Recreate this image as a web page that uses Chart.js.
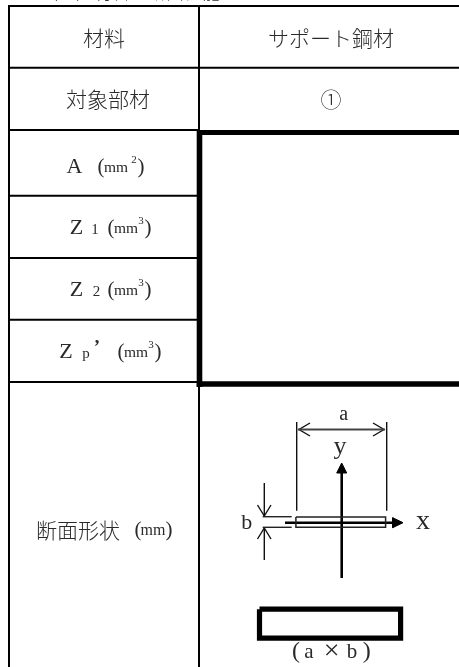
<!DOCTYPE html>
<html lang="ja">
<head>
<meta charset="utf-8">
<title>断面形状</title>
<script src="https://cdn.jsdelivr.net/npm/chart.js@4/dist/chart.umd.min.js"></script>
<style>
  html, body { margin: 0; padding: 0; background: #fff; overflow: hidden; }
  canvas { display: block; }
</style>
</head>
<body>
<canvas id="myTable" width="459" height="667"></canvas>
<script>
// table content
const caption = "（１）材料の断面性能";
const leftLabels = ["材料", "対象部材", "断面形状"];
const rightLabels = ["サポート鋼材", "①"];
const propSymbols = ["A", "Z", "Z", "Z"];
const propSubs = ["", "1", "2", "p"];
const propUnitPowers = ["2", "3", "3", "3"];
const unitText = "mm";
const dimLabels = ["a", "b", "y", "x"];
const sizeLabel = ["(", "a", "×", "b", ")"];

// where the things go, in page pixels (the scales below run 0-459 and 667-0)
const layout = {
  headerY: [38, 99, 530],
  headerX: [104, 108, 78],
  rightX: 331,
  rightY: [38, 99],
  propY: [167, 228, 290, 352],
  propZ: [74.5, 76.5, 76.5, 66],
  propSub: [0, 95, 96.5, 86],
  propParen: [98, 108, 108, 118],
  dimX: [343.7, 246.7, 340, 423],
  dimY: [415, 523, 447, 522],
  dimSize: [20, 22, 26, 28],
  sizeX: [296, 309, 331.7, 352, 366.7],
  sizeSize: [24, 21, 28, 21, 24],
  sizeY: 652
};

function seg(pts, width, color) {
  return {
    data: pts.map(p => ({ x: p[0], y: p[1] })),
    borderColor: color || "#000",
    borderWidth: width,
    borderCapStyle: "butt",
    borderJoinStyle: "miter",
    pointRadius: 0,
    showLine: true,
    fill: false
  };
}

function tri(pts) {
  let d = seg(pts.concat([pts[0]]), 1, "#000");
  d.fill = "shape";
  d.backgroundColor = "#000";
  return d;
}

let lines = [
  // outer frame and dividers
  seg([[8, 6], [459, 6]], 2),
  seg([[9, 6], [9, 667]], 2),
  seg([[199, 6], [199, 130]], 2),
  seg([[199, 382], [199, 667]], 2),
  seg([[9, 67.7], [459, 67.7]], 2),
  seg([[9, 130], [199, 130]], 2),
  seg([[9, 195.7], [197, 195.7]], 2),
  seg([[9, 258], [197, 258]], 2),
  seg([[9, 319.7], [197, 319.7]], 2),
  seg([[9, 382], [197, 382]], 2),
  // heavy box
  seg([[199.5, 130], [199.5, 387]], 5.6),
  seg([[197, 132.5], [459, 132.5]], 5),
  seg([[196.7, 384], [459, 384]], 5.6),
  // dimension a
  seg([[296.7, 422], [296.7, 510.7]], 1.4, "#111"),
  seg([[386.7, 422], [386.7, 510.7]], 1.4, "#111"),
  seg([[298, 429.5], [385, 429.5]], 1.8, "#444"),
  seg([[310, 423], [299, 429.5], [310, 436]], 1.4, "#111"),
  seg([[373, 423], [384, 429.5], [373, 436]], 1.4, "#111"),
  // dimension b
  seg([[262.7, 516.7], [291.7, 516.7]], 1.4, "#222"),
  seg([[262.7, 527.3], [291.7, 527.3]], 1.4, "#222"),
  seg([[264.3, 483], [264.3, 516]], 1.4, "#111"),
  seg([[264.3, 528], [264.3, 560]], 1.4, "#111"),
  seg([[257.5, 505], [264.3, 516], [271, 505]], 1.4, "#111"),
  seg([[257.5, 539], [264.3, 528], [271, 539]], 1.4, "#111"),
  // plate section
  seg([[295.9, 516.9], [385.6, 516.9], [385.6, 527.2], [295.9, 527.2], [295.9, 516.9]], 1.5, "#222"),
  // axes
  seg([[341.7, 578], [341.7, 472]], 2.6),
  tri([[341.7, 463], [336.7, 473], [346.7, 473]]),
  seg([[285, 522.7], [394, 522.7]], 2.4),
  tri([[403, 522.7], [392.7, 517.7], [392.7, 527.7]]),
  // thick rectangle
  seg([[259.5, 609.2], [400.6, 609.2], [400.6, 638.2], [259.5, 638.2], [259.5, 609.2]], 5.2)
];

const jp = '"Noto Sans CJK JP"';
const latin = '"Liberation Serif", "DejaVu Serif"';

const textPlugin = {
  id: "tableText",
  afterDatasetsDraw(chart) {
    const ctx = chart.ctx;
    const sx = chart.scales.x, sy = chart.scales.y;
    const put = (s, x, y, font, align) => {
      ctx.font = font;
      ctx.textAlign = align || "center";
      ctx.fillText(s, sx.getPixelForValue(x), sy.getPixelForValue(y));
    };
    ctx.save();
    ctx.fillStyle = "#2a2a2a";
    ctx.textBaseline = "middle";

    // caption, mostly cut off by the page top
    put(caption, 40, -7.5, "300 18px " + jp, "left");

    leftLabels.forEach((s, i) => {
      put(s, layout.headerX[i], layout.headerY[i], "300 21px " + jp);
    });
    put("(", 138, 530, "21px " + latin);
    put(unitText, 153, 531, "16px " + latin);
    put(")", 169, 530, "21px " + latin);

    rightLabels.forEach((s, i) => {
      put(s, layout.rightX, layout.rightY[i], "300 21px " + jp);
    });

    propSymbols.forEach((s, i) => {
      let y = layout.propY[i];
      let p = layout.propParen[i];
      let w = i == 0 ? 3 : 0;
      put(s, layout.propZ[i], y, "22px " + latin);
      if (propSubs[i]) put(propSubs[i], layout.propSub[i], y + 2, "15px " + latin);
      if (i == 3) put("’", 97, y - 4, "bold 19px " + latin);
      put("(", p + 3, y, "21px " + latin);
      put(unitText, p + 18, y + 1, "15.5px " + latin);
      put(propUnitPowers[i], p + 33 + w, y - 7, "11px " + latin);
      put(")", p + 40 + w, y, "21px " + latin);
    });

    dimLabels.forEach((s, i) => {
      put(s, layout.dimX[i], layout.dimY[i], layout.dimSize[i] + "px " + latin);
    });

    sizeLabel.forEach((s, i) => {
      put(s, layout.sizeX[i], layout.sizeY, layout.sizeSize[i] + "px " + latin);
    });
    ctx.restore();
  }
};

let cht = document.getElementById("myTable");
let tableChart = new Chart(cht, {
  type: "scatter",
  data: { datasets: lines },
  options: {
    responsive: false,
    animation: false,
    layout: { padding: 0 },
    plugins: {
      legend: { display: false },
      tooltip: { enabled: false }
    },
    scales: {
      x: { type: "linear", min: 0, max: 459, display: false },
      y: { type: "linear", min: 0, max: 667, reverse: true, display: false }
    }
  },
  plugins: [textPlugin]
});
</script>
</body>
</html>
